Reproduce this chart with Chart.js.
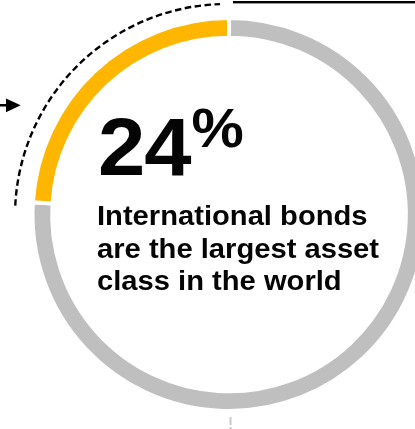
<!DOCTYPE html>
<html>
<head>
<meta charset="utf-8">
<script src="https://cdn.jsdelivr.net/npm/chart.js@4.4.1/dist/chart.umd.min.js"></script>
<style>
  html, body { margin: 0; padding: 0; background: #fff; }
  body { width: 415px; height: 429px; overflow: hidden; position: relative; }
  #wrap { position: absolute; left: 0; top: 0; width: 458px; height: 429px; }
  .big {
    position: absolute; left: 98px; top: 107px;
    font-family: "Liberation Sans", Arial, sans-serif; font-weight: bold;
    color: #050505; white-space: nowrap; line-height: 1;
    transform: scaleX(1.05); transform-origin: left top;
  }
  .big .num { font-size: 81px; letter-spacing: -1px; }
  .big .pct { font-size: 56px; vertical-align: top; position: relative; top: -7px; margin-left: 1px; }
  .caption {
    position: absolute; left: 97px; top: 200px;
    font-family: "Liberation Sans", Arial, sans-serif; font-weight: bold;
    font-size: 27px; line-height: 32.5px; color: #050505; white-space: nowrap;
    transform: scaleX(1.08); transform-origin: left top;
  }
</style>
</head>
<body>
<div id="wrap"><canvas id="chart"></canvas></div>
<div class="big" id="big"></div>
<div class="caption" id="caption"></div>
<script>
// Share of the world's investable assets
const categories = ["Other asset classes", "International bonds"];
const shares = [76, 24];
const sliceColors = ["#BFBFBF", "#FFB600"];
const headlineValue = shares[1];
const captionLines = ["International bonds", "are the largest asset", "class in the world"];

document.getElementById("big").innerHTML =
  '<span class="num">' + headlineValue + '</span><span class="pct">%</span>';
document.getElementById("caption").innerHTML = captionLines.join("<br>");

// Decorations drawn around the ring: dashed guide arc, pointer arrow, rules
const decorations = {
  id: "decorations",
  afterDraw(chart) {
    const arc = chart.getDatasetMeta(0).data[0];
    const cx = arc.x, cy = arc.y;
    const ctx = chart.ctx;
    ctx.save();

    // dashed arc following the highlighted share
    ctx.strokeStyle = "#000";
    ctx.lineWidth = 2.4;
    ctx.setLineDash([6.5, 3.5]);
    ctx.beginPath();
    ctx.arc(cx - 2, cy + 1.5, 212, -177.2 * Math.PI / 180, -91.9 * Math.PI / 180, false);
    ctx.stroke();
    ctx.setLineDash([]);

    // pointer arrow at the left
    ctx.fillStyle = "#000";
    ctx.fillRect(0, 104, 8, 2.5);
    ctx.beginPath();
    ctx.moveTo(6, 98.5);
    ctx.lineTo(20.7, 105.3);
    ctx.lineTo(6, 112.3);
    ctx.closePath();
    ctx.fill();

    // top rule
    ctx.fillRect(233, 1, 200, 2.4);

    // small tick under the ring
    ctx.strokeStyle = "#C8C8C8";
    ctx.lineWidth = 2;
    ctx.setLineDash([8, 2]);
    ctx.beginPath();
    ctx.moveTo(cx + 1.5, 417);
    ctx.lineTo(cx + 1.5, 432);
    ctx.stroke();

    ctx.restore();
  }
};

new Chart(document.getElementById("chart"), {
  type: "doughnut",
  data: {
    labels: categories,
    datasets: [{
      data: shares,
      backgroundColor: sliceColors,
      borderColor: "#FFFFFF",
      borderWidth: 4,
      hoverOffset: 0
    }]
  },
  options: {
    responsive: true,
    maintainAspectRatio: false,
    animation: false,
    cutout: "90%",
    rotation: 0,
    layout: { padding: { top: 16, bottom: 16, left: 0, right: 0 } },
    plugins: {
      legend: { display: false },
      tooltip: { enabled: false }
    }
  },
  plugins: [decorations]
});
</script>
</body>
</html>
